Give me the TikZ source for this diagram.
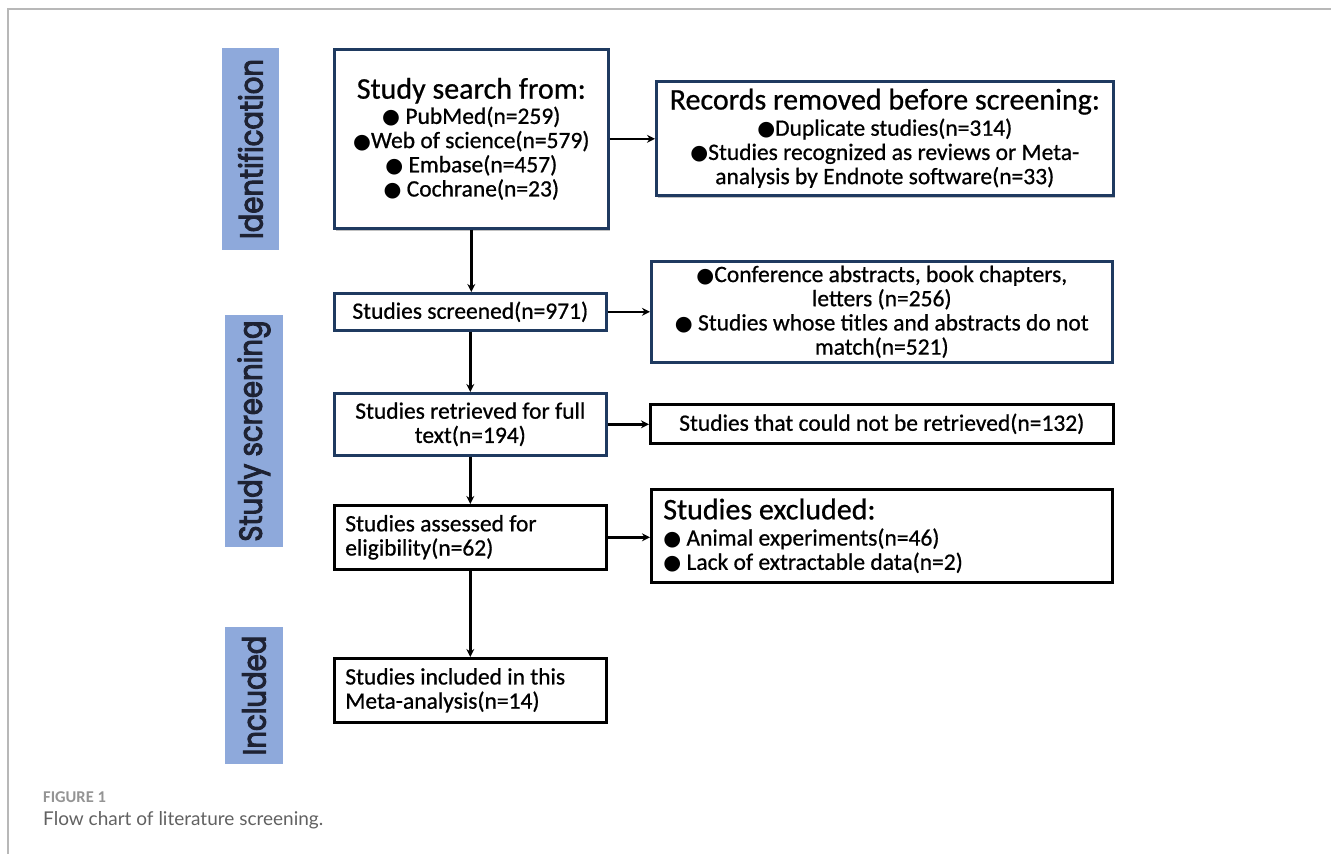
\documentclass[tikz,border=0pt]{standalone}
\usepackage{fontspec}
\setmainfont{Carlito}[FakeBold=0.7]
\newfontfamily\capfont{Carlito}
\newfontfamily\dejavu{DejaVu Sans}
\newfontfamily\poppins{Poppins}[FakeStretch=0.86,FakeBold=3]
\newfontfamily\latofont{Lato}
\usetikzlibrary{arrows.meta,shadows,calc}
\definecolor{navy}{HTML}{1F3A60}
\definecolor{barblue}{HTML}{8EA9DB}
\definecolor{labeltext}{HTML}{1E2233}
\newcommand\bodyfs{\fontsize{23.5}{24.2}\selectfont}
\newcommand\headfs{\fontsize{30}{30}\selectfont}
\newcommand\bul{{\dejavu\fontsize{20.5}{20}\selectfont ●}}
\begin{document}
\begin{tikzpicture}[x=1pt,y=-1pt,
  box/.style={draw=navy,line width=2.6pt,fill=white,inner sep=0pt,anchor=north west,align=center,font=\bodyfs},
  blackbox/.style={box,draw=black},
  shadowed/.style={drop shadow={shadow xshift=1.5pt,shadow yshift=-2.5pt,opacity=0.35,fill=black!70}},
  bar/.style={fill=barblue,draw=none,rotate=90,inner sep=0pt,font=\poppins\fontsize{32}{33}\selectfont,text=labeltext},
  arr/.style={line width=2.4pt,-{Stealth[length=8pt,width=8pt]}},
  cap1/.style={anchor=west,inner sep=0pt,font=\capfont\bfseries\fontsize{16.5}{17}\selectfont,text=black!42},
  cap2/.style={anchor=west,inner sep=0pt,font=\latofont\fontsize{19}{20}\selectfont,text=black!62}]
\useasboundingbox (0,0) rectangle (1331,854);
% frame
\draw[black!28,line width=1.5pt] (8,854) -- (8,9) -- (1331,9);
% side bars
\node[bar,minimum width=202pt,minimum height=57.5pt] (lid) at (250.5,149) {Identification};
\node[bar,minimum width=232pt,minimum height=58pt] (lss) at (254,431) {Study screening};
\node[bar,minimum width=137pt,minimum height=58pt] (linc) at (254,695.5) {Included};
% boxes
\node[box,shadowed,minimum width=274pt,minimum height=179pt] (search) at (333,48)
  {{\headfs Study search from:}\\[1pt]
   \bul\ PubMed(n=259)\\ \bul Web of science(n=579)\\ \bul\ Embase(n=457)\\ \bul\ Cochrane(n=23)};
\node[box,shadowed,minimum width=457pt,minimum height=114pt] (removed) at (655,80)
  {{\headfs Records removed before screening:}\\[2pt]
   \bul Duplicate studies(n=314)\\ \bul Studies recognized as reviews or Meta-\\ analysis by Endnote software(n=33)};
\node[box,minimum width=272pt,minimum height=37pt] (screened) at (333,292)
  {Studies screened(n=971)};
\node[box,minimum width=461pt,minimum height=101pt] (conf) at (650,260)
  {\bul Conference abstracts, book chapters,\\ letters (n=256)\\ \bul\ Studies whose titles and abstracts do not\\ match(n=521)};
\node[box,minimum width=272pt,minimum height=62pt] (retrieved) at (333,392)
  {Studies retrieved for full\\ text(n=194)};
\node[blackbox,minimum width=463pt,minimum height=39pt] (notret) at (649,403)
  {Studies that could not be retrieved(n=132)};
\node[blackbox,minimum width=272pt,minimum height=64pt,text width=250pt,align=flush left] (assessed) at (333,504)
  {Studies assessed for\\ eligibility(n=62)};
\node[blackbox,minimum width=461pt,minimum height=93pt,text width=437pt,align=flush left] (excluded) at (650,488)
  {{\headfs Studies excluded:}\\[2pt]
   \bul\ Animal experiments(n=46)\\ \bul\ Lack of extractable data(n=2)};
\node[blackbox,minimum width=272pt,minimum height=64pt,text width=250pt,align=flush left] (included) at (333,657)
  {Studies included in this\\ Meta-analysis(n=14)};
% arrows
\draw[arr] (search.south) -- (search.south |- screened.north);
\draw[arr] (screened.south) -- (screened.south |- retrieved.north);
\draw[arr] (retrieved.south) -- (retrieved.south |- assessed.north);
\draw[arr] (assessed.south) -- (assessed.south |- included.north);
\draw[arr] (search.east) -- (search.east -| removed.west);
\draw[arr] (screened.east) -- (screened.east -| conf.west);
\draw[arr] (retrieved.east) -- (retrieved.east -| notret.west);
\draw[arr] (assessed.east) -- (assessed.east -| excluded.west);
% caption
\node[cap1] (fig) at (43,797) {FIGURE 1};
\node[cap2] (capt) at (43,820) {Flow chart of literature screening.};
\end{tikzpicture}
\end{document}
